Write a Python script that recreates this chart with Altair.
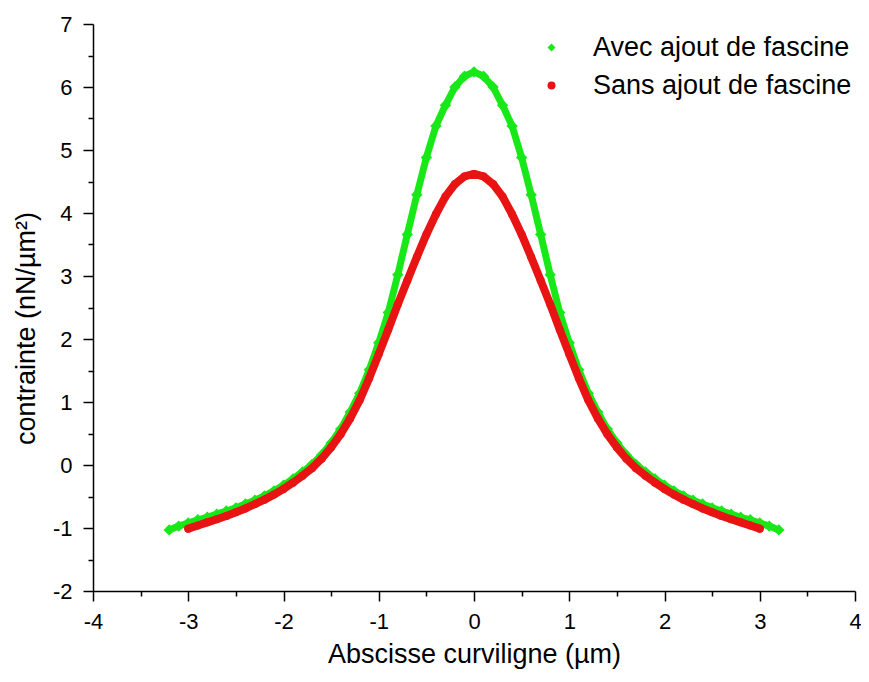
import altair as alt
import pandas as pd

series_names = ["Avec ajout de fascine", "Sans ajout de fascine"]
series_colors = ["#18E818", "#E81414"]
series_shapes = ["diamond", "circle"]

x_avec = [-3.2, -3.1, -3.0, -2.9, -2.8, -2.7, -2.6, -2.5, -2.4, -2.3, -2.2, -2.1,
          -2.0, -1.9, -1.8, -1.7, -1.6, -1.5, -1.4, -1.3, -1.2, -1.1, -1.0, -0.9,
          -0.8, -0.7, -0.6, -0.5, -0.4, -0.3, -0.2, -0.1, 0.0, 0.1, 0.2, 0.3, 0.4,
          0.5, 0.6, 0.7, 0.8, 0.9, 1.0, 1.1, 1.2, 1.3, 1.4, 1.5, 1.6, 1.7, 1.8, 1.9,
          2.0, 2.1, 2.2, 2.3, 2.4, 2.5, 2.6, 2.7, 2.8, 2.9, 3.0, 3.1, 3.2]
y_avec = [-1.03, -0.97, -0.92, -0.87, -0.83, -0.78, -0.73, -0.68, -0.62, -0.56, -0.49, -0.41,
          -0.32, -0.22, -0.11, 0.01, 0.16, 0.35, 0.57, 0.84, 1.14, 1.51, 1.94, 2.42,
          3.02, 3.66, 4.29, 4.88, 5.38, 5.71, 6.00, 6.17, 6.24, 6.17, 6.00, 5.71, 5.38,
          4.88, 4.29, 3.66, 3.02, 2.42, 1.94, 1.51, 1.14, 0.84, 0.57, 0.35, 0.16, 0.01, -0.11, -0.22,
          -0.32, -0.41, -0.49, -0.56, -0.62, -0.68, -0.73, -0.78, -0.83, -0.87, -0.92, -0.97, -1.03]

x_sans = [-3.0, -2.9, -2.8, -2.7, -2.6, -2.5, -2.4, -2.3, -2.2, -2.1,
          -2.0, -1.9, -1.8, -1.7, -1.6, -1.5, -1.4, -1.3, -1.2, -1.1, -1.0, -0.9,
          -0.8, -0.7, -0.6, -0.5, -0.4, -0.3, -0.2, -0.1, 0.0, 0.1, 0.2, 0.3, 0.4,
          0.5, 0.6, 0.7, 0.8, 0.9, 1.0, 1.1, 1.2, 1.3, 1.4, 1.5, 1.6, 1.7, 1.8, 1.9,
          2.0, 2.1, 2.2, 2.3, 2.4, 2.5, 2.6, 2.7, 2.8, 2.9, 3.0]
y_sans = [-1.01, -0.96, -0.91, -0.86, -0.81, -0.75, -0.69, -0.62, -0.55, -0.47,
          -0.38, -0.28, -0.17, -0.05, 0.10, 0.28, 0.49, 0.74, 1.03, 1.38, 1.76, 2.15,
          2.55, 2.93, 3.30, 3.66, 3.98, 4.26, 4.46, 4.58, 4.62, 4.58, 4.46, 4.26, 3.98,
          3.66, 3.30, 2.93, 2.55, 2.15, 1.76, 1.38, 1.03, 0.74, 0.49, 0.28, 0.10, -0.05, -0.17, -0.28,
          -0.38, -0.47, -0.55, -0.62, -0.69, -0.75, -0.81, -0.86, -0.91, -0.96, -1.01]

x_ticks = [-4, -3.5, -3, -2.5, -2, -1.5, -1, -0.5, 0, 0.5, 1, 1.5, 2, 2.5, 3, 3.5, 4]
y_ticks = [-2, -1.5, -1, -0.5, 0, 0.5, 1, 1.5, 2, 2.5, 3, 3.5, 4, 4.5, 5, 5.5, 6, 6.5, 7]

df_avec = pd.DataFrame({"x": x_avec, "y": y_avec, "serie": series_names[0]})
df_sans = pd.DataFrame({"x": x_sans, "y": y_sans, "serie": series_names[1]})

FONT = "Liberation Sans"
label_expr = "datum.value % 1 === 0 ? '' + datum.value : ''"
tick_size = {"condition": {"test": "datum.value % 1 !== 0", "value": 5}, "value": 10}

x_enc = alt.X("x:Q", scale=alt.Scale(domain=[-4, 4], nice=False, zero=False),
              axis=alt.Axis(title="Abscisse curviligne (µm)", values=x_ticks,
                            labelExpr=label_expr, tickSize=tick_size, labelFlush=False,
                            labelPadding=10, titlePadding=9))
y_enc = alt.Y("y:Q", scale=alt.Scale(domain=[-2, 7], nice=False, zero=False),
              axis=alt.Axis(title="contrainte (nN/µm²)", values=y_ticks,
                            labelExpr=label_expr, tickSize=tick_size, labelFlush=False,
                            labelPadding=11, titlePadding=12, titleY=304))

color_scale = alt.Scale(domain=series_names, range=series_colors)
shape_scale = alt.Scale(domain=series_names, range=series_shapes)


def line_layer(df, col, width):
    return alt.Chart(df).mark_line(strokeWidth=width, strokeCap="round", strokeJoin="round",
                                   color=col).encode(x=x_enc, y=y_enc, order="x:Q")


def point_layer(df, size):
    return alt.Chart(df).mark_point(filled=True, size=size, opacity=1, strokeWidth=0).encode(
        x=x_enc, y=y_enc,
        color=alt.Color("serie:N", scale=color_scale, title=None),
        shape=alt.Shape("serie:N", scale=shape_scale, title=None),
    )


chart = alt.layer(
    line_layer(df_avec, series_colors[0], 7),
    point_layer(df_avec, 130),
    line_layer(df_sans, series_colors[1], 8),
    point_layer(df_sans, 64),
).properties(
    width=762, height=567,
    autosize=alt.AutoSizeParams(type="none"),
    padding={"left": 85, "top": 16, "right": 6, "bottom": 78},
).configure_view(stroke=None).configure_axis(
    grid=False, domainColor="black", domainWidth=1.5, tickColor="black", tickWidth=1.5,
    labelColor="black", titleColor="black", labelFont=FONT, titleFont=FONT,
    labelFontSize=22, titleFontSize=27, titleFontWeight="normal",
).configure_legend(
    orient="none", legendX=445, legendY=10, labelFont=FONT, labelFontSize=27,
    labelColor="black", symbolSize=64, symbolStrokeWidth=0, labelOffset=28,
    labelLimit=0, rowPadding=10, padding=0,
)

chart.save("out.html", embed_options={"renderer": "svg", "actions": False})
